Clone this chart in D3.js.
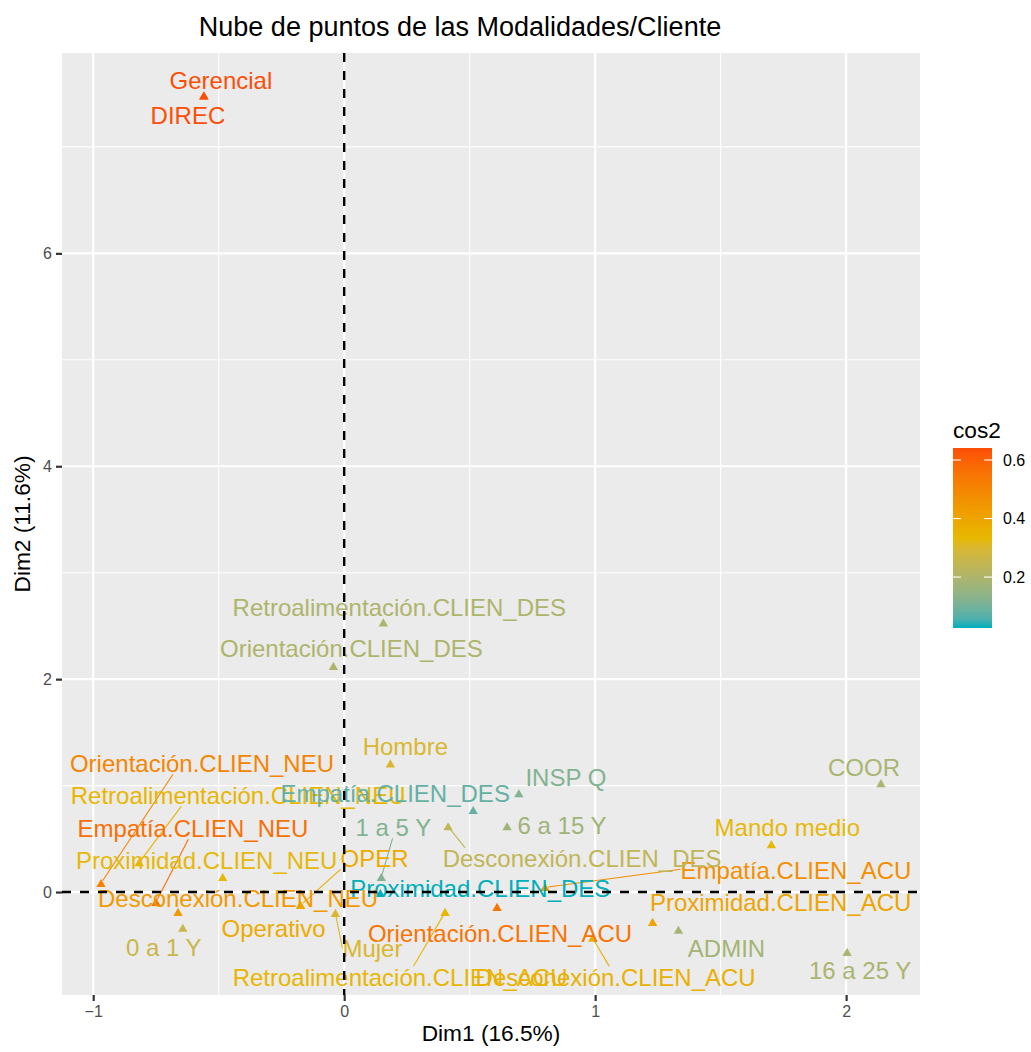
<!DOCTYPE html>
<html>
<head>
<meta charset="utf-8">
<script src="https://cdn.jsdelivr.net/npm/d3@7"></script>
<style>
  body { margin: 0; background: #ffffff; }
  text { font-family: "Liberation Sans", Arial, sans-serif; }
</style>
</head>
<body>
<svg id="chart" width="1031" height="1052"></svg>
<script>
// ---- Data: MCA variable categories, coordinates on Dim1/Dim2 and quality (cos2) ----
const categories = [
  "Orientación.CLIEN_ACU", "Orientación.CLIEN_DES", "Orientación.CLIEN_NEU",
  "Retroalimentación.CLIEN_ACU", "Retroalimentación.CLIEN_DES", "Retroalimentación.CLIEN_NEU",
  "Empatía.CLIEN_ACU", "Empatía.CLIEN_DES", "Empatía.CLIEN_NEU",
  "Proximidad.CLIEN_ACU", "Proximidad.CLIEN_DES", "Proximidad.CLIEN_NEU",
  "Desconexión.CLIEN_ACU", "Desconexión.CLIEN_DES", "Desconexión.CLIEN_NEU",
  "Gerencial", "Mando medio", "Operativo",
  "ADMIN", "COOR", "DIREC", "INSP Q", "OPER",
  "Hombre", "Mujer",
  "0 a 1 Y", "1 a 5 Y", "6 a 15 Y", "16 a 25 Y"
];
const dim1 = [
  0.609, -0.043, -0.969,
  0.402, 0.156, -0.817,
  0.800, 0.514, -0.750,
  1.229, 0.144, -0.484,
  0.990, 0.414, -0.662,
  -0.559, 1.702, -0.174,
  1.332, 2.139, -0.559, 0.696, -0.174,
  0.184, -0.035,
  -0.643, 0.148, 0.649, 2.004
];
const dim2 = [
  -0.143, 2.120, 0.082,
  -0.190, 2.530, 0.278,
  0.044, 0.767, -0.096,
  -0.284, -0.012, 0.138,
  -0.433, 0.615, -0.190,
  7.480, 0.447, -0.125,
  -0.358, 1.020, 7.480, 0.925, -0.125,
  1.205, -0.199,
  -0.339, 0.138, 0.615, -0.565
];
const cos2 = [
  0.55, 0.20, 0.50,
  0.34, 0.20, 0.34,
  0.47, 0.08, 0.56,
  0.40, 0.026, 0.33,
  0.36, 0.24, 0.44,
  0.641, 0.33, 0.38,
  0.18, 0.19, 0.641, 0.12, 0.38,
  0.30, 0.30,
  0.26, 0.12, 0.17, 0.19
];
const xTicks = [-1, 0, 1, 2];
const yTicks = [0, 2, 4, 6];
const xMinor = [-0.5, 0.5, 1.5];
const yMinor = [1, 3, 5, 7];
const legendTicks = [0.2, 0.4, 0.6];
const gradientColors = ["#00AFBB", "#E7B800", "#FC4E07"];

// ---- Repelled label layout (pixel offsets from each point; optional segment anchor) ----
const labelLayout = {
  "Orientación.CLIEN_ACU":       { dx: 3,   dy: 26 },
  "Orientación.CLIEN_DES":       { dx: 18,  dy: -18 },
  "Orientación.CLIEN_NEU":       { dx: 101, dy: -120, seg: [0.39, 1] },
  "Retroalimentación.CLIEN_ACU": { dx: -45, dy: 65,  seg: [0.54, 0] },
  "Retroalimentación.CLIEN_DES": { dx: 16,  dy: -15 },
  "Retroalimentación.CLIEN_NEU": { dx: 99,  dy: -67, seg: [0.33, 1] },
  "Empatía.CLIEN_ACU":           { dx: 251, dy: -17, seg: [0, 0.45] },
  "Empatía.CLIEN_DES":           { dx: -78, dy: -17 },
  "Empatía.CLIEN_NEU":           { dx: 37,  dy: -74, seg: [0.48, 1] },
  "Proximidad.CLIEN_ACU":        { dx: 128, dy: -20 },
  "Proximidad.CLIEN_DES":        { dx: 100, dy: -5 },
  "Proximidad.CLIEN_NEU":        { dx: -16, dy: -17 },
  "Desconexión.CLIEN_ACU":       { dx: 23,  dy: 39,  seg: "center" },
  "Desconexión.CLIEN_DES":       { dx: 134, dy: 32,  seg: [0.08, 0] },
  "Desconexión.CLIEN_NEU":       { dx: 60,  dy: -14 },
  "Gerencial":                   { dx: 17,  dy: -15 },
  "Mando medio":                 { dx: 16,  dy: -17 },
  "Operativo":                   { dx: -27, dy: 23 },
  "ADMIN":                       { dx: 48,  dy: 18 },
  "COOR":                        { dx: -17, dy: -16 },
  "DIREC":                       { dx: -16, dy: 20 },
  "INSP Q":                      { dx: 47,  dy: -16 },
  "OPER":                        { dx: 74,  dy: -47, seg: [0, 1] },
  "Hombre":                      { dx: 15,  dy: -17 },
  "Mujer":                       { dx: 37,  dy: 35,  seg: [0, 0.5] },
  "0 a 1 Y":                     { dx: -19, dy: 19 },
  "1 a 5 Y":                     { dx: 12,  dy: -50, seg: [0.49, 1] },
  "6 a 15 Y":                    { dx: 55,  dy: -1 },
  "16 a 25 Y":                   { dx: 13,  dy: 18 }
};

const points = categories.map((name, i) => ({ name, x: dim1[i], y: dim2[i], cos2: cos2[i] }));

// ---- Geometry ----
const svg = d3.select("#chart");
const panel = { left: 62, right: 920, top: 53, bottom: 995 };

function expand(ext) {
  const r = ext[1] - ext[0];
  return [ext[0] - 0.05 * r, ext[1] + 0.05 * r];
}
const x = d3.scaleLinear().domain(expand(d3.extent(dim1))).range([panel.left, panel.right]);
const y = d3.scaleLinear().domain(expand(d3.extent(dim2))).range([panel.bottom, panel.top]);

const cosExt = d3.extent(cos2);
const color = d3.scaleLinear()
  .domain([cosExt[0], (cosExt[0] + cosExt[1]) / 2, cosExt[1]])
  .range(gradientColors)
  .interpolate(d3.interpolateLab);

// ---- Panel background and grid ----
svg.append("rect")
  .attr("x", panel.left).attr("y", panel.top)
  .attr("width", panel.right - panel.left).attr("height", panel.bottom - panel.top)
  .attr("fill", "#EBEBEB");

const grid = svg.append("g");
grid.selectAll("line.xminor").data(xMinor).join("line")
  .attr("x1", d => x(d)).attr("x2", d => x(d))
  .attr("y1", panel.top).attr("y2", panel.bottom)
  .attr("stroke", "#fff").attr("stroke-width", 1.1);
grid.selectAll("line.yminor").data(yMinor.filter(v => y(v) > panel.top)).join("line")
  .attr("y1", d => y(d)).attr("y2", d => y(d))
  .attr("x1", panel.left).attr("x2", panel.right)
  .attr("stroke", "#fff").attr("stroke-width", 1.1);
grid.selectAll("line.xmajor").data(xTicks).join("line")
  .attr("x1", d => x(d)).attr("x2", d => x(d))
  .attr("y1", panel.top).attr("y2", panel.bottom)
  .attr("stroke", "#fff").attr("stroke-width", 2.2);
grid.selectAll("line.ymajor").data(yTicks).join("line")
  .attr("y1", d => y(d)).attr("y2", d => y(d))
  .attr("x1", panel.left).attr("x2", panel.right)
  .attr("stroke", "#fff").attr("stroke-width", 2.2);

// ---- Axes ----
const xAxis = svg.append("g")
  .attr("transform", `translate(0,${panel.bottom})`)
  .call(d3.axisBottom(x).tickValues(xTicks).tickSize(6).tickPadding(5).tickFormat(d3.format("d")));
const yAxis = svg.append("g")
  .attr("transform", `translate(${panel.left},0)`)
  .call(d3.axisLeft(y).tickValues(yTicks).tickSize(6).tickPadding(4).tickFormat(d3.format("d")));
[xAxis, yAxis].forEach(a => {
  a.select(".domain").remove();
  a.selectAll(".tick line").attr("stroke", "#333333").attr("stroke-width", 2.2);
  a.selectAll(".tick text").attr("fill", "#4D4D4D").style("font-size", "16px")
    .style("font-family", "'Liberation Sans', Arial, sans-serif");
});

// ---- Points ----
const tri = d3.symbol().type(d3.symbolTriangle).size(38);
svg.append("g").selectAll("path").data(points).join("path")
  .attr("d", tri)
  .attr("transform", d => `translate(${x(d.x)},${y(d.y) + 1})`)
  .attr("fill", d => color(d.cos2));

// ---- Labels with repel segments ----
const labelG = svg.append("g");
const texts = labelG.selectAll("text").data(points).join("text")
  .attr("x", d => x(d.x) + labelLayout[d.name].dx)
  .attr("y", d => y(d.y) + labelLayout[d.name].dy)
  .attr("dy", "0.36em")
  .attr("text-anchor", "middle")
  .style("font-size", "24px")
  .attr("fill", d => color(d.cos2))
  .text(d => d.name);

const segG = svg.insert("g", () => labelG.node());
texts.each(function (d) {
  const lay = labelLayout[d.name];
  if (!lay.seg) return;
  const w = this.getComputedTextLength();
  const cx = x(d.x) + lay.dx, cy = y(d.y) + lay.dy;
  const hw = w / 2, hh = 11;
  const px = x(d.x), py = y(d.y);
  let sx, sy;
  if (lay.seg === "center") {
    const ddx = px - cx, ddy = py - cy;
    const t = Math.min(hw / Math.abs(ddx || 1e-9), hh / Math.abs(ddy || 1e-9));
    sx = cx + ddx * t; sy = cy + ddy * t;
  } else {
    sx = cx - hw + lay.seg[0] * w;
    sy = cy - hh + lay.seg[1] * 2 * hh;
  }
  const len = Math.hypot(px - sx, py - sy);
  const k = (len - 3) / len;
  segG.append("line")
    .attr("x1", sx).attr("y1", sy)
    .attr("x2", sx + (px - sx) * k).attr("y2", sy + (py - sy) * k)
    .attr("stroke", color(d.cos2)).attr("stroke-width", 1.1);
});

// ---- Reference lines through the origin ----
svg.append("line")
  .attr("x1", x(0)).attr("x2", x(0)).attr("y1", panel.top).attr("y2", panel.bottom)
  .attr("stroke", "#000").attr("stroke-width", 2.4).attr("stroke-dasharray", "9,9");
svg.append("line")
  .attr("y1", y(0)).attr("y2", y(0)).attr("x1", panel.left).attr("x2", panel.right)
  .attr("stroke", "#000").attr("stroke-width", 2.4).attr("stroke-dasharray", "9,9");

// ---- Titles ----
svg.append("text")
  .attr("x", panel.right / 2).attr("y", 36)
  .attr("text-anchor", "middle").style("font-size", "27px").attr("fill", "#000")
  .text("Nube de puntos de las Modalidades/Cliente");
svg.append("text")
  .attr("x", (panel.left + panel.right) / 2).attr("y", 1041)
  .attr("text-anchor", "middle").style("font-size", "22.7px").attr("fill", "#000")
  .text("Dim1 (16.5%)");
svg.append("text")
  .attr("transform", `translate(30,${(panel.top + panel.bottom) / 2}) rotate(-90)`)
  .attr("text-anchor", "middle").style("font-size", "22.7px").attr("fill", "#000")
  .text("Dim2 (11.6%)");

// ---- Colour bar legend ----
const bar = { x: 953, w: 39, top: 448, bottom: 628 };
const ly = d3.scaleLinear().domain(cosExt).range([bar.bottom, bar.top]);
const defs = svg.append("defs");
const grad = defs.append("linearGradient").attr("id", "cosGrad")
  .attr("x1", 0).attr("y1", 1).attr("x2", 0).attr("y2", 0);
d3.range(0, 1.0001, 0.05).forEach(t => {
  grad.append("stop").attr("offset", t)
    .attr("stop-color", color(cosExt[0] + t * (cosExt[1] - cosExt[0])));
});
svg.append("text").attr("x", bar.x).attr("y", 438)
  .style("font-size", "22.7px").attr("fill", "#000").text("cos2");
svg.append("rect").attr("x", bar.x).attr("y", bar.top)
  .attr("width", bar.w).attr("height", bar.bottom - bar.top)
  .attr("fill", "url(#cosGrad)");
const lg = svg.append("g");
legendTicks.forEach(v => {
  lg.append("line").attr("x1", bar.x).attr("x2", bar.x + 8)
    .attr("y1", ly(v)).attr("y2", ly(v)).attr("stroke", "#fff").attr("stroke-width", 1.1);
  lg.append("line").attr("x1", bar.x + bar.w - 8).attr("x2", bar.x + bar.w)
    .attr("y1", ly(v)).attr("y2", ly(v)).attr("stroke", "#fff").attr("stroke-width", 1.1);
  lg.append("text").attr("x", bar.x + bar.w + 11).attr("y", ly(v)).attr("dy", "0.36em")
    .style("font-size", "16px").attr("fill", "#000").text(d3.format(".1f")(v));
});
</script>
</body>
</html>
